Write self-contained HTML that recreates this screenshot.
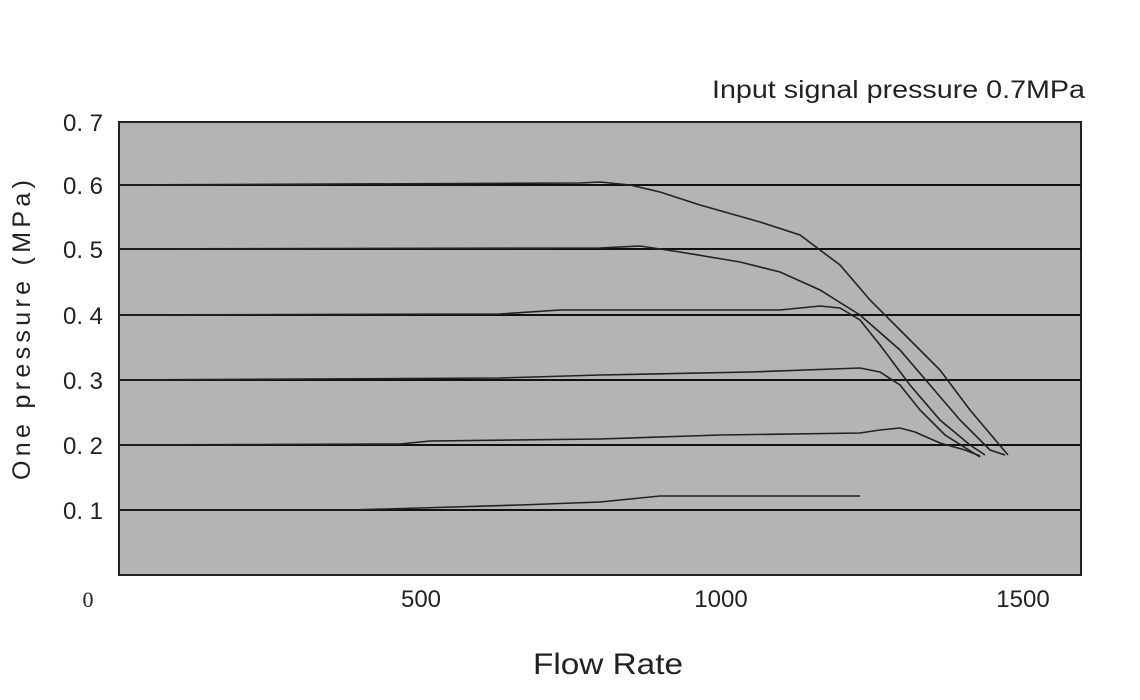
<!DOCTYPE html>
<html><head><meta charset="utf-8"><style>
html,body{margin:0;padding:0;background:#fff;width:1140px;height:700px;overflow:hidden}
svg{display:block}
text{font-family:"Liberation Sans",sans-serif;fill:#222}
</style></head><body>
<svg width="1140" height="700" viewBox="0 0 1140 700">
<rect x="119" y="122" width="962" height="453" fill="#b4b4b4" stroke="#222" stroke-width="2"/>
<g stroke="#111" stroke-width="2">
<line x1="119" y1="185" x2="1081" y2="185"/>
<line x1="119" y1="249" x2="1081" y2="249"/>
<line x1="119" y1="315" x2="1081" y2="315"/>
<line x1="119" y1="380" x2="1081" y2="380"/>
<line x1="119" y1="445" x2="1081" y2="445"/>
<line x1="119" y1="510" x2="1081" y2="510"/>
</g>
<g fill="none" stroke="#222" stroke-width="1.6">
<polyline points="119,185 580,183 600,182 630,185 660,192 700,205 760,222 800,235 840,265 870,300 900,330 940,370 970,410 1008,455"/>
<polyline points="119,249 600,248 640,246 680,252 740,262 780,272 820,290 860,315 900,350 930,385 960,420 990,450 1005,455"/>
<polyline points="119,315 500,314 560,310 780,310 820,306 840,308 860,320 880,345 910,385 940,420 970,445 985,455"/>
<polyline points="119,380 500,378 600,375 750,372 860,368 880,372 900,385 920,410 945,435 980,457"/>
<polyline points="119,445 400,444 430,441 600,439 720,435 860,433 880,430 900,428 915,432 940,443 965,450 980,456"/>
<polyline points="119,510 350,510 420,508 520,505 600,502 660,496 860,496"/>
</g>
<g font-size="24" text-anchor="end">
<text x="103" y="131">0. 7</text>
<text x="103" y="194">0. 6</text>
<text x="103" y="258">0. 5</text>
<text x="103" y="324">0. 4</text>
<text x="103" y="389">0. 3</text>
<text x="103" y="454">0. 2</text>
<text x="103" y="519">0. 1</text>
</g>
<text x="88" y="607" font-size="22" text-anchor="middle" style="font-family:'Liberation Serif',serif">0</text>
<g font-size="24" text-anchor="middle">
<text x="421" y="607">500</text>
<text x="721" y="607">1000</text>
<text x="1023" y="607">1500</text>
</g>
<text x="533" y="674" font-size="30" textLength="150" lengthAdjust="spacingAndGlyphs">Flow Rate</text>
<text x="712" y="98" font-size="25" textLength="373" lengthAdjust="spacingAndGlyphs">Input signal pressure 0.7MPa</text>
<text transform="translate(30,480) rotate(-90)" font-size="25" textLength="300" lengthAdjust="spacing">One pressure (MPa)</text>
</svg>
</body></html>
